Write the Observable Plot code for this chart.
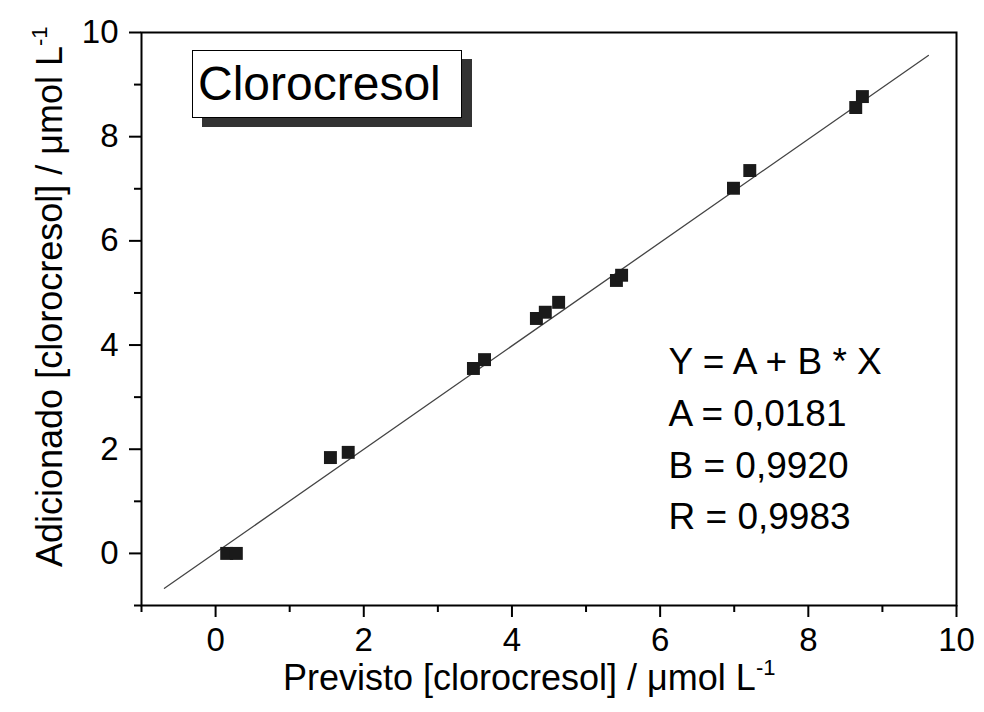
<!DOCTYPE html>
<html><head><meta charset="utf-8">
<script src="https://cdn.jsdelivr.net/npm/d3@7"></script>
<script src="https://cdn.jsdelivr.net/npm/@observablehq/plot@0.6"></script>
<style>
html,body{margin:0;padding:0;background:#fff;}
#chart{position:relative;width:984px;height:712px;}
#titlebox{position:absolute;left:192px;top:50px;width:270px;height:68px;border:1px solid #000;background:#fff;box-shadow:10px 9px 0 #333;font-family:"Liberation Sans",Arial,sans-serif;font-size:48px;line-height:66px;padding-left:5px;box-sizing:border-box;color:#000;}
</style></head><body><div id="chart"></div>
<script>
const previsto   = [0.15, 0.28, 1.55, 1.79, 3.48, 3.63, 4.33, 4.45, 4.63, 5.41, 5.48, 6.99, 7.21, 8.64, 8.73];
const adicionado = [0.00, 0.00, 1.84, 1.94, 3.55, 3.72, 4.51, 4.63, 4.82, 5.24, 5.34, 7.01, 7.35, 8.56, 8.77];
const fitX = [-0.69, 9.62];
const fitY = [-0.67, 9.56];
const xMajor = [0, 2, 4, 6, 8, 10];
const xMinor = [-1, 1, 3, 5, 7, 9];
const yMajor = [0, 2, 4, 6, 8, 10];
const yMinor = [-1, 1, 3, 5, 7, 9];
const fitLines = ["Y = A + B * X", "A = 0,0181", "B = 0,9920", "R = 0,9983"];
const titleText = "Clorocresol";
const xTitle = ["Previsto [clorocresol] / \u03BCmol L", "-1"];
const yTitle = ["Adicionado [clorocresol] / \u03BCmol L", "-1"];

const FONT = '"Liberation Sans", Arial, sans-serif';
const points = previsto.map((x, i) => ({x, y: adicionado[i]}));
const fit = fitX.map((x, i) => ({x, y: fitY[i]}));

const mL = 141, mR = 28, mT = 32, mB = 107;
const plot = Plot.plot({
  width: 984, height: 712,
  marginLeft: mL, marginRight: mR, marginTop: mT, marginBottom: mB,
  x: {domain: [-1, 10]},
  y: {domain: [-1, 10]},
  style: {fontFamily: FONT, fontSize: "33px", background: "#fff", color: "#000"},
  marks: [
    Plot.frame({stroke: "#000", strokeWidth: 2}),
    Plot.axisX({ticks: xMajor, tickSize: 12, tickPadding: 10, strokeWidth: 2, fontSize: 33, label: null, tickFormat: d => String(d)}),
    Plot.axisX({ticks: xMinor, tickSize: 7, strokeWidth: 2, text: null, label: null}),
    Plot.axisY({ticks: yMajor, tickSize: 12, tickPadding: 11, strokeWidth: 2, fontSize: 33, label: null, tickFormat: d => String(d)}),
    Plot.axisY({ticks: yMinor, tickSize: 7, strokeWidth: 2, text: null, label: null}),
    Plot.line(fit, {x: "x", y: "y", stroke: "#444", strokeWidth: 1.3}),
    Plot.dot(points, {x: "x", y: "y", symbol: "square", r: 7.3, fill: "#1a1a1a"}),
    Plot.text([fitLines.join("\n")], {text: d => d, frameAnchor: "top-left", dx: 527, dy: 305, textAnchor: "start", lineAnchor: "top", lineHeight: 1.397, fontSize: 37, fill: "#000", fontFamily: FONT})
  ]
});

const svg = d3.select(plot);
const xt = svg.append("text").attr("x", 283).attr("y", 690).attr("text-anchor", "start").attr("font-size", 36).attr("fill", "#000").attr("font-family", FONT);
xt.append("tspan").text(xTitle[0]);
xt.append("tspan").attr("font-size", 22).attr("dy", -15).text(xTitle[1]);

const yt = svg.append("text").attr("transform", "translate(62,567) rotate(-90)").attr("text-anchor", "start").attr("font-size", 36).attr("fill", "#000").attr("font-family", FONT);
yt.append("tspan").text(yTitle[0]);
yt.append("tspan").attr("font-size", 22).attr("dy", -15).text(yTitle[1]);

const chart = document.getElementById("chart");
chart.append(plot);
const tb = document.createElement("div");
tb.id = "titlebox";
tb.textContent = titleText;
chart.append(tb);
</script>
</body></html>
